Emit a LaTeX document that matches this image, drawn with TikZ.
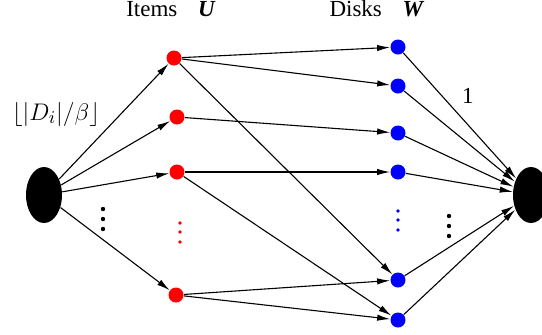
\documentclass[tikz,border=0pt]{standalone}
\usepackage{fontspec}
\setmainfont{Liberation Serif}
\usetikzlibrary{arrows.meta, positioning, shapes.geometric}

\tikzset{
  item/.style={circle, fill=red, inner sep=0pt, minimum size=7.5pt},
  disk/.style={circle, fill=blue, inner sep=0pt, minimum size=7.5pt},
  term/.style={ellipse, fill=black, inner sep=0pt, minimum width=18pt, minimum height=28pt},
  flow/.style={-{Latex[length=6.5pt,width=3.2pt]}, line width=0.55pt},
  vdot/.style={circle, fill=#1, inner sep=0pt, minimum size=2.2pt}
}

\begin{document}
\begin{tikzpicture}[x=0.5pt, y=-0.5pt, font=\fontsize{11.5}{13}\selectfont]
				\useasboundingbox (0,0) rectangle (542,334);

				\node[term] (src) at (44,195) {};
				\node[term] (sink) at (531,195) {};

				\node[item] (u1) at (174,58) {};
				\node[item] (u2) at (177,117) {};
				\node[item] (u3) at (177,172) {};
				\node[item] (u4) at (176,295) {};

				\node[disk] (w1) at (398,47) {};
				\node[disk] (w2) at (398,86) {};
				\node[disk] (w3) at (398,133) {};
				\node[disk] (w4) at (398,172) {};
				\node[disk] (w5) at (398,280) {};
				\node[disk] (w6) at (398,320) {};

				\node (titleU) at (171,9) {Items\hspace{0.9em}\textbf{\textit{U}}};
				\node (titleW) at (377,9) {Disks\hspace{0.9em}\textbf{\textit{W}}};
				\node[font=\fontsize{13}{15}\selectfont] (cap) at (56,114) {$\lfloor |D_i|/\beta \rfloor$};

				\foreach \y [count=\k] in {209,219,229} {
					\node[vdot=black] (ls\k) at (103,\y) {};
					\node[vdot=black] (rs\k) at (449,\y+7) {};
				}
				\foreach \y [count=\k] in {223,232,242} {
					\node[vdot=red, minimum size=1.8pt] (ud\k) at (180,\y) {};
					\node[vdot=blue, minimum size=1.8pt] (wd\k) at (398,\y-12) {};
				}

				\foreach \u in {u1,u2,u3,u4}
					\draw[flow] (src) -- (\u);

				\draw[flow] (u1) -- (w1);
				\draw[flow] (u1) -- (w2);
				\draw[flow] (u1) -- (w5);
				\draw[flow] (u2) -- (w3);
				\draw[flow] (u3) -- (w4);
				\draw[flow] (u3) -- (w6);
				\draw[flow] (u4) -- (w5);
				\draw[flow] (u4) -- (w6);

				\draw[flow] (w1) -- (sink) node[pos=0.34, anchor=west, xshift=8pt, inner sep=2pt] (one) {1};
				\foreach \w in {w2,w3,w4,w5,w6}
					\draw[flow] (\w) -- (sink);
			\end{tikzpicture}
\end{document}
